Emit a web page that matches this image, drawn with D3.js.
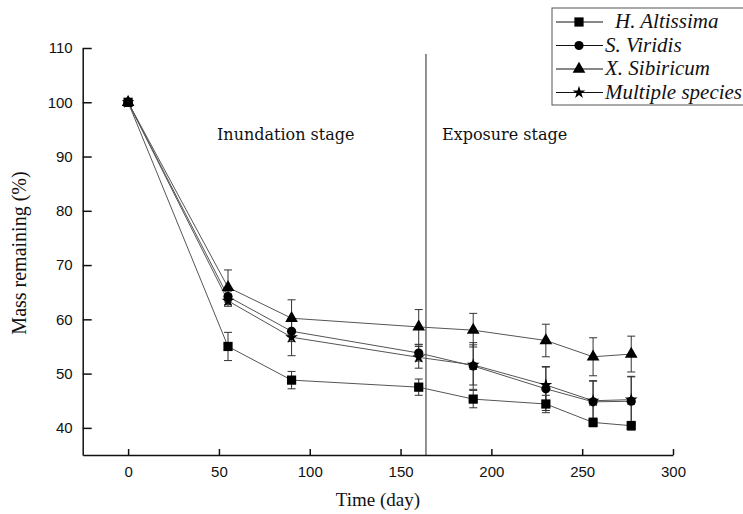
<!DOCTYPE html>
<html>
<head>
<meta charset="utf-8">
<script src="https://cdn.jsdelivr.net/npm/d3@7"></script>
<style>
  body { margin: 0; background: #fff; }
  svg { display: block; }
</style>
</head>
<body>
<div id="chart"></div>
<script>
// sampling days
const days = [0, 55, 90, 160, 190, 230, 256, 277];

// mass remaining (%) per species
const altissima = [100, 55.0, 48.8, 47.5, 45.3, 44.4, 41.0, 40.4];
const viridis   = [100, 64.2, 57.8, 53.8, 51.4, 47.2, 44.8, 44.9];
const sibiricum = [100, 65.9, 60.2, 58.6, 58.0, 56.1, 53.1, 53.6];
const multiple  = [100, 63.4, 56.7, 53.0, 51.6, 47.9, 45.0, 45.2];

// error bars (+/-)
const altissimaErr = [0, 2.6, 1.6, 1.5, 1.6, 1.6, 0.8, 0.8];
const viridisErr   = [0, 1.0, 1.9, 1.5, 4.3, 4.0, 3.9, 4.5];
const sibiricumErr = [0, 3.2, 3.4, 3.2, 3.1, 3.0, 3.5, 3.3];
const multipleErr  = [0, 1.0, 3.4, 2.0, 3.7, 3.4, 3.6, 4.3];

const xTicks = [0, 50, 100, 150, 200, 250, 300];
const yTicks = [40, 50, 60, 70, 80, 90, 100, 110];
const stageDay = 164;

const width = 743, height = 514;

const svg = d3.select("#chart")
    .append("svg")
    .attr("width", width)
    .attr("height", height);

const x = d3.scaleLinear().domain([-25, 300]).range([82.7, 673]);
const y = d3.scaleLinear().domain([35, 110]).range([455, 48]);

const series = [
    { name: "H. Altissima", vals: altissima, err: altissimaErr, sym: d3.symbolSquare, size: 85 },
    { name: "S. Viridis", vals: viridis, err: viridisErr, sym: d3.symbolCircle, size: 66 },
    { name: "X. Sibiricum", vals: sibiricum, err: sibiricumErr, sym: d3.symbolTriangle, size: 70 },
    { name: "Multiple species", vals: multiple, err: multipleErr, sym: d3.symbolStar, size: 50 }
];

// axes
const xAxis = svg.append("g")
    .attr("transform", "translate(0," + y(35) + ")")
    .call(d3.axisBottom(x).tickValues(xTicks).tickSizeInner(-6).tickSizeOuter(0).tickPadding(11));
const yAxis = svg.append("g")
    .attr("transform", "translate(" + x(-25) + ",0)")
    .call(d3.axisLeft(y).tickValues(yTicks).tickSizeInner(-9).tickSizeOuter(0).tickPadding(10));

[xAxis, yAxis].forEach(function (a) {
    a.select(".domain").attr("stroke", "#111").attr("stroke-width", 1.5);
    a.selectAll(".tick line").attr("stroke", "#111").attr("stroke-width", 1.5);
    a.selectAll("text")
        .attr("fill", "#111")
        .style("font-family", "'Liberation Sans', Arial, sans-serif")
        .style("font-size", "15px");
});

// stage divider
svg.append("line")
    .attr("x1", x(stageDay)).attr("x2", x(stageDay))
    .attr("y1", 54).attr("y2", y(35))
    .attr("stroke", "#222").attr("stroke-width", 1);

svg.append("text")
    .attr("x", 217).attr("y", 140)
    .style("font-family", "'DejaVu Serif', serif")
    .style("font-size", "16px")
    .attr("fill", "#111")
    .text("Inundation stage");

svg.append("text")
    .attr("x", 442).attr("y", 140)
    .style("font-family", "'DejaVu Serif', serif")
    .style("font-size", "16px")
    .attr("fill", "#111")
    .text("Exposure stage");

// connecting lines
const line = d3.line()
    .x(function (d, i) { return x(days[i]); })
    .y(function (d) { return y(d); });

series.forEach(function (s) {
    svg.append("path")
        .datum(s.vals)
        .attr("d", line)
        .attr("fill", "none")
        .attr("stroke", "#555")
        .attr("stroke-width", 1);
});

// error bars
series.forEach(function (s) {
    const g = svg.append("g").attr("stroke", "#333").attr("stroke-width", 1);
    s.vals.forEach(function (v, i) {
        if (!s.err[i]) return;
        const cx = x(days[i]);
        g.append("line").attr("x1", cx).attr("x2", cx)
            .attr("y1", y(v - s.err[i])).attr("y2", y(v + s.err[i]));
        [v - s.err[i], v + s.err[i]].forEach(function (e) {
            g.append("line").attr("x1", cx - 4).attr("x2", cx + 4)
                .attr("y1", y(e)).attr("y2", y(e));
        });
    });
});

// markers
series.forEach(function (s) {
    svg.append("g").selectAll("path")
        .data(s.vals)
        .enter()
        .append("path")
        .attr("d", d3.symbol().type(s.sym).size(s.size))
        .attr("transform", function (d, i) { return "translate(" + x(days[i]) + "," + y(d) + ")"; })
        .attr("fill", "#000");
});

// axis titles
svg.append("text")
    .attr("transform", "translate(" + ((x(-25) + x(300)) / 2) + ",506)")
    .style("text-anchor", "middle")
    .style("font-family", "'Liberation Serif', 'Times New Roman', serif")
    .style("font-size", "19px")
    .attr("fill", "#111")
    .text("Time (day)");

svg.append("text")
    .attr("transform", "translate(26,253) rotate(-90)")
    .style("text-anchor", "middle")
    .style("font-family", "'Liberation Serif', 'Times New Roman', serif")
    .style("font-size", "20px")
    .attr("fill", "#111")
    .text("Mass remaining (%)");

// legend
const legend = svg.append("g");
legend.append("rect")
    .attr("x", 552).attr("y", 8)
    .attr("width", 200).attr("height", 97)
    .attr("fill", "#fff").attr("stroke", "#555").attr("stroke-width", 1);

series.forEach(function (s, i) {
    const ly = 22 + i * 23.5;
    legend.append("line")
        .attr("x1", 556).attr("x2", 603)
        .attr("y1", ly).attr("y2", ly)
        .attr("stroke", "#111").attr("stroke-width", 1);
    legend.append("path")
        .attr("d", d3.symbol().type(s.sym).size(s.size))
        .attr("transform", "translate(579," + ly + ")")
        .attr("fill", "#000");
    legend.append("text")
        .attr("x", i === 0 ? 615 : 605).attr("y", ly + 6)
        .style("font-family", "'Liberation Serif', 'Times New Roman', serif")
        .style("font-style", "italic")
        .style("font-size", "21px")
        .attr("fill", "#111")
        .text(s.name);
});
</script>
</body>
</html>
